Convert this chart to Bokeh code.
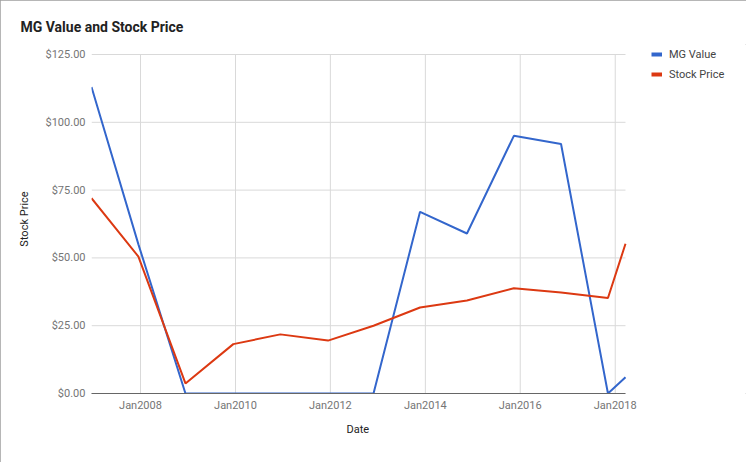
from bokeh.plotting import figure
from bokeh.models import (Range1d, FixedTicker, NumeralTickFormatter, Title,
                          DatetimeTickFormatter, Legend, LegendItem, ColumnDataSource)
from bokeh.embed import file_html
from bokeh.resources import INLINE
import pandas as pd

# ---- data ----
dates = ["2006-12-20", "2007-12-16", "2008-12-12", "2009-12-15", "2010-12-12",
         "2011-12-14", "2012-11-28", "2013-11-21", "2014-11-17", "2015-11-13",
         "2016-11-10", "2017-11-06", "2018-03-21"]
mg_value = [113, 55, 0, 0, 0, 0, 0, 67, 59, 95, 92, 0, 6]
stock_price = [72, 50.5, 3.7, 18.2, 21.8, 19.5, 25, 31.7, 34.3, 38.8, 37.2, 35.2, 55.2]
tick_years = ["2008-01-01", "2010-01-01", "2012-01-01", "2014-01-01", "2016-01-01", "2018-01-01"]
y_ticks = [0, 25, 50, 75, 100, 125]
series_names = ["MG Value", "Stock Price"]

BLUE = "#3366cc"
RED = "#dc3912"
GRID = "#d9d9d9"
FONT = "Roboto"

# ---- layout numbers (pixels) ----
W, H = 746, 462
LEFT, BOTTOM = 91, 69          # frame left / bottom border
TOP = 44                       # frame top (room for legend row)
PLOT_W = 534                   # width of the data area
PLOT_H = H - BOTTOM - TOP - 10  # height of the 0..125 area

x = pd.to_datetime(dates)
x0 = x[0].value / 1e6
x1 = x[-1].value / 1e6
x_end = x0 + (x1 - x0) * (W - LEFT) / PLOT_W
y_end = y_ticks[-1] * (H - BOTTOM - TOP) / PLOT_H

src = ColumnDataSource(dict(x=x, mg=mg_value, sp=stock_price))

p = figure(width=W, height=H, output_backend="svg", toolbar_location=None,
           x_axis_type="datetime",
           x_range=Range1d(x0, x_end), y_range=Range1d(0, y_end),
           min_border_left=LEFT, min_border_right=0, min_border_top=TOP,
           min_border_bottom=BOTTOM)
p.styles = {"outline": "1px solid #9e9e9e", "outline-offset": "-1px"}
p.outline_line_color = None
p.background_fill_color = "white"
p.border_fill_color = "white"
p.grid.visible = False

# title
p.title.text = "MG Value and Stock Price"
p.title.text_font = FONT
p.title.text_font_size = "14px"
p.title.text_font_style = "bold"
p.title.text_color = "#222222"
p.title.align = "left"
p.title.offset = -71
p.title.standoff = 20

# gridlines limited to the data area
xticks = [pd.Timestamp(t).value / 1e6 for t in tick_years]
p.segment(x0=[x0] * len(y_ticks), x1=[x1] * len(y_ticks), y0=y_ticks, y1=y_ticks,
          line_color=GRID, line_width=1)
p.segment(x0=xticks, x1=xticks, y0=[y_ticks[0]] * len(xticks), y1=[y_ticks[-1]] * len(xticks),
          line_color=GRID, line_width=1)

# lines
p.line("x", "mg", source=src, line_color=BLUE, line_width=2)
p.line("x", "sp", source=src, line_color=RED, line_width=2)

# axes
p.xaxis.ticker = FixedTicker(ticks=xticks)
fmt = "Jan%Y"
p.xaxis.formatter = DatetimeTickFormatter(years=fmt, months=fmt, days=fmt, hours=fmt,
                                          minutes=fmt, seconds=fmt, milliseconds=fmt,
                                          microseconds=fmt, minsec=fmt, hourmin=fmt)
p.xaxis.bounds = (x0, x1)
p.yaxis.ticker = FixedTicker(ticks=y_ticks)
p.yaxis.formatter = NumeralTickFormatter(format="$0.00")

for ax in (p.xaxis[0], p.yaxis[0]):
    ax.major_tick_line_color = None
    ax.minor_tick_line_color = None
    ax.major_tick_out = 0
    ax.major_tick_in = 0
    ax.minor_tick_out = 0
    ax.major_label_text_font = FONT
    ax.major_label_text_font_size = "11px"
    ax.major_label_text_color = "#757575"
    ax.axis_label_text_font = FONT
    ax.axis_label_text_font_size = "11px"
    ax.axis_label_text_font_style = "normal"
    ax.axis_label_text_color = "#222222"

p.xaxis.axis_line_color = "#666666"
p.xaxis.major_label_standoff = 5
p.yaxis.axis_label = "Stock Price"
p.yaxis.axis_line_color = None
p.yaxis.major_label_standoff = 6
p.yaxis.axis_label_standoff = 12

# x axis title, centred under the data area
date_title = Title(text="Date", align="left", offset=PLOT_W / 2 - 12,
                   text_font=FONT, text_font_size="11px", text_font_style="normal",
                   text_color="#222222", standoff=12)
p.add_layout(date_title, "below")

# legend with thick swatches (hidden twin renderers of the same series)
r1 = p.line("x", "mg", source=src, line_color=BLUE, line_width=4, visible=False)
r2 = p.line("x", "sp", source=src, line_color=RED, line_width=4, visible=False)
legend = Legend(items=[LegendItem(label=series_names[0], renderers=[r1]),
                       LegendItem(label=series_names[1], renderers=[r2])],
                location=(PLOT_W + 26, H - BOTTOM - TOP - 40), orientation="vertical",
                border_line_color=None, background_fill_alpha=0,
                inactive_fill_alpha=0,
                padding=0, margin=0, spacing=0,
                glyph_width=11, glyph_height=20, label_height=20, label_standoff=7,
                label_text_font=FONT, label_text_font_size="11px", label_text_color="#444444")
p.add_layout(legend, "center")

open("out.html", "w").write(file_html(p, INLINE))
